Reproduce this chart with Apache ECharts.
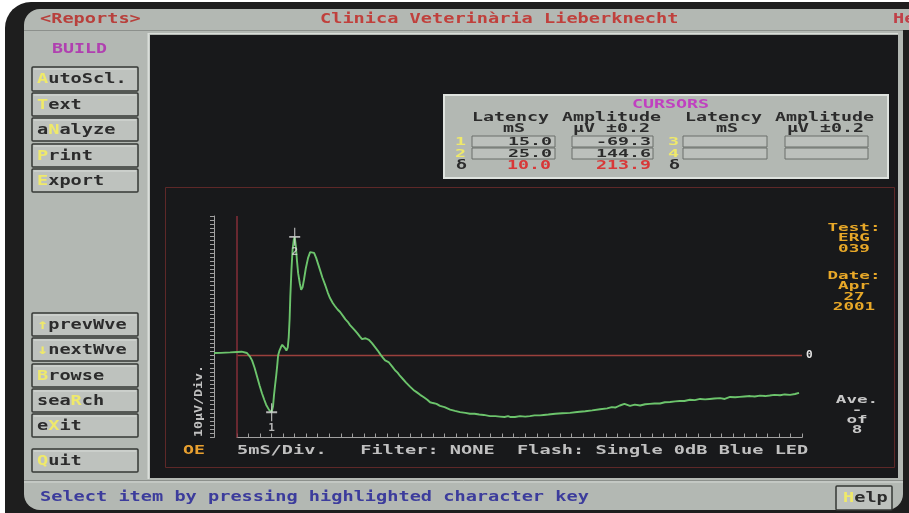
<!DOCTYPE html>
<html><head><meta charset="utf-8">
<script src="https://cdn.jsdelivr.net/npm/echarts@6/dist/echarts.min.js"></script>
<style>html,body{margin:0;padding:0;background:#fff}#c{width:909px;height:513px}</style>
</head><body><div id="c"></div>
<script>
// ---------- DATA ----------
const xRangeMs = [-10, 245];
const yRangeUv = [-100, 170];
const timeMs = [-10,-7,-3,0,2,4.3,5.5,6.5,7.6,8.7,9.8,10.8,11.8,12.6,13.8,15,15.6,16,16.5,17,17.5,17.8,18.4,19,19.6,20.2,20.8,21.4,22,22.4,22.8,23.1,23.6,24.1,24.6,25,25.5,26,26.5,27.2,27.8,28.4,29,29.8,30.8,31.7,32.5,33.4,34.3,35.2,36,37,38.2,39.3,40.3,41.5,42.5,43.6,44.7,46,47,48,49,50,51,52.2,53.3,54.2,55,55.7,56.4,57.2,58.5,59.6,61,62.2,63.3,64.2,65,65.7,66.3,67.4,68.5,69.6,70.7,72,73.3,75,76.5,78,79.4,81,82.5,83.7,85,86.5,88,90,92.4,94.5,96.7,99,101,103,105,107,109.7,112,114,116,117.5,118.4,120.5,122.7,125,127,129,131.4,133,135,138,141,144.4,147.5,151,154,157.4,160.5,162.5,164,166,168,170.4,172.5,174.8,177,179,181,183.4,185.5,187.8,190,192,194,196.4,198.5,200.8,203,205,207,209.5,211.5,213.8,216,218,220,222.5,224.5,226.8,229,231,233,235.5,237.5,239.8,242,243.7];
const amplitudeUv = [3,3.2,3.8,4.3,4.6,3,-1,-6,-15,-26,-37,-46,-54,-60,-66,-69.3,-62,-49,-36,-24,-10,0,6,10,13,13,9,6,10,22,45,72,105,130,141,144.6,133,115,100,88,80,83,92,106,119,126,128,125,119,111,104,95,86,77,70,64,60,56,53,48,44,41,37,34,31,27,23,20,19,21,22,19,15,11,6,1,-3,-6,-8,-8,-10,-14,-18,-21,-25,-29,-33,-38,-42,-45,-48,-51,-54,-57,-58,-59,-61.5,-63,-66,-67.5,-69,-70,-71,-71,-72,-72.5,-74,-74,-74.5,-75,-74,-75,-75,-74,-74.5,-74,-73,-73,-72.5,-72,-71,-70.5,-70,-69,-68,-67,-65.5,-64.5,-63,-63.5,-61,-59,-61.5,-60,-61,-59.5,-59,-58.5,-58.5,-57,-56.7,-56,-55.5,-55.5,-54,-54.5,-53,-53.5,-53,-52.5,-52,-53,-50.6,-51,-50.5,-50,-49.5,-50,-49,-49.5,-48.8,-48,-48.5,-47.5,-48,-47,-45.5];
const cursorLatencyMs = [15.0, 25.0];
const cursorAmplitudeUv = [-69.3, 144.6];
const cursorNames = ['1', '2'];
const xTicksEndMs = 245;

// ---------- UI helpers ----------
const FF = '"DejaVu Sans Mono", "Liberation Mono", monospace';
const G = [];
function rect(x,y,w,h,fill,stroke,lw,r,z){ G.push({type:'rect',silent:true,z:z||-5,shape:{x:x,y:y,width:w,height:h,r:r||0},style:{fill:fill||'none',stroke:stroke||'none',lineWidth:lw||0}}); }
function line(x1,y1,x2,y2,stroke,lw,z){ G.push({type:'line',silent:true,z:z||-4,shape:{x1:x1,y1:y1,x2:x2,y2:y2},style:{stroke:stroke,lineWidth:lw||1}}); }
function txt(s,x,y,fill,size,cw,align,rot){
  size=size||14; cw=cw||11.2;
  const sx=cw/(size*0.602);
  let left=x;
  if(align==='center') left=x-s.length*cw/2; else if(align==='right') left=x-s.length*cw;
  G.push({type:'text',silent:true,z:50,x:left,y:y,scaleX:sx,rotation:rot||0,
    style:{text:s,font:'bold '+size+'px '+FF,fill:fill,align:'left',verticalAlign:'middle',textAlign:'left',textVerticalAlign:'middle'}});
}
const GRAY='#b3b8b3', DARK='#2c2c2c', YEL='#efe96a', RED='#d83838';

// bezel and panels
rect(5,2,960,560,'#1e1e1e',null,0,26,-20);
rect(24,9,879,501,GRAY,null,0,16,-19);
rect(40,9,869,21,GRAY,null,0,0,-18);
line(24,30.5,903,30.5,'#8c908c',1,-17);
rect(150,35,748,443,'#18191b',null,0,0,-16);
line(148.5,33,148.5,479,'#dadeda',2,-15);
line(148,33.5,898,33.5,'#dadeda',1,-15);
line(24,480.5,903,480.5,'#8c908c',1,-15);
line(24,482,903,482,'#d4d8d4',1,-15);
rect(165.5,187.5,729,280,null,'#5e2828',1,0,-14);

// title row
txt('<Reports>',40,19,'#b8403c');
txt('Clinica Veterinària Lieberknecht',320,19,'#c0403c');
txt('He',893,19,'#c04048');

// left menu
txt('BUILD',52,49,'#b040b0',14,11);
const buttons=[['AutoScl.',0,67,91],['Text',0,93,116],['aNalyze',1,118,141],['Print',0,144,167],['Export',0,169,192],
  ['↑prevWve',0,313,336],['↓nextWve',0,338,361],['Browse',0,364,387],['seaRch',3,389,412],['eXit',1,414,437],['Quit',0,449,472]];
function hiText(label,hi,left,cy,cw){
  const pre=label.slice(0,hi), ch=label[hi], post=label.slice(hi+1);
  if(pre) txt(pre,left,cy,DARK,14,cw);
  txt(ch,left+hi*cw,cy,YEL,14,cw);
  if(post) txt(post,left+(hi+1)*cw,cy,DARK,14,cw);
}
buttons.forEach(function(b){
  rect(32,b[2],106,b[3]-b[2],'#bec2be','#363836',1.5,1,-10);
  line(34,b[2]+2,136,b[2]+2,'#d8dcd8',1,-9);
  hiText(b[0],b[1],37,(b[2]+b[3])/2+0.5,11.2);
});

// status bar
txt('Select item by pressing highlighted character key',40,497,'#3c3c9c');
rect(836,486,56,24,'#bec2be','#363836',1.5,1,-10);
hiText('Help',0,843,498,11.2);

// cursors box
rect(444,95,444,83,GRAY,'#dfe3df',2,0,-10);
txt('CURSORS',632,105,'#c040c0',12,11);
[['Latency',472],['Amplitude',562],['Latency',685],['Amplitude',775]].forEach(function(h){txt(h[0],h[1],118,DARK,12,11);});
[['mS',503],['µV ±0.2',573],['mS',716],['µV ±0.2',787]].forEach(function(h){txt(h[0],h[1],129,DARK,12,11);});
[[472,83],[572,81],[683,84],[785,83]].forEach(function(f){
  rect(f[0],136,f[1],11,'#bcc0bc','#6a6e6a',1,0,-9);
  rect(f[0],148,f[1],11,'#bcc0bc','#6a6e6a',1,0,-9);
});
txt('1',455,142,YEL,11,11); txt('2',455,154,YEL,11,11); txt('δ',456,166,DARK,12,11);
txt('3',668,142,YEL,11,11); txt('4',668,154,YEL,11,11); txt('δ',669,166,DARK,12,11);
txt(cursorLatencyMs[0].toFixed(1),552,142,DARK,11,11,'right');
txt(cursorLatencyMs[1].toFixed(1),552,154,DARK,11,11,'right');
txt((cursorLatencyMs[1]-cursorLatencyMs[0]).toFixed(1),551,166,RED,12,11,'right');
txt(cursorAmplitudeUv[0].toFixed(1),651,142,DARK,11,11,'right');
txt(cursorAmplitudeUv[1].toFixed(1),651,154,DARK,11,11,'right');
txt((cursorAmplitudeUv[1]-cursorAmplitudeUv[0]).toFixed(1),651,166,RED,12,11,'right');

// side info
const ORA='#e8a828';
[['Test:',228],['ERG',238],['039',249],['Date:',276],['Apr',286],['27',297],['2001',307]].forEach(function(t){txt(t[0],854,t[1],ORA,11,10.6,'center');});
[['Ave.',400],['-',410],['of',420],['8',430]].forEach(function(t){txt(t[0],857,t[1],'#c8c8c8',11,10.6,'center');});

// axis captions
txt('OE',183,451,'#e8a030',13,11);
txt('5mS/Div.   Filter: NONE  Flash: Single 0dB Blue LED',237,451,'#c0c0c0',13,11.2);
txt('10µV/Div.',199,437,'#c0c0c0',10,8,null,Math.PI/2);

// ---------- CHART ----------
const chart = echarts.init(document.getElementById('c'), null, {renderer:'canvas'});
const AX='#a0a0a0';
const traceData = timeMs.map(function(t,i){return [t, amplitudeUv[i]];});
const cursorData = cursorLatencyMs.map(function(t,i){return [t, cursorAmplitudeUv[i]];});
chart.setOption({
  backgroundColor:'#ffffff',
  animation:false,
  grid:[
    {left:214,right:107,top:216,bottom:75.5},
    {left:237,right:107,top:216,bottom:75.5}
  ],
  xAxis:[
    {gridIndex:0,type:'value',min:xRangeMs[0],max:xRangeMs[1],show:false},
    {gridIndex:1,type:'value',min:0,max:xTicksEndMs,interval:5,z:3,
      axisLine:{show:true,onZero:false,lineStyle:{color:AX,width:1}},
      axisTick:{show:true,inside:true,length:4,lineStyle:{color:AX,width:1}},
      axisLabel:{show:false},splitLine:{show:false}}
  ],
  yAxis:[
    {gridIndex:0,type:'value',min:yRangeUv[0],max:yRangeUv[1],interval:5,z:3,
      axisLine:{show:true,onZero:false,lineStyle:{color:AX,width:1}},
      axisTick:{show:true,length:4,lineStyle:{color:AX,width:1}},
      axisLabel:{show:false},splitLine:{show:false}},
    {gridIndex:1,type:'value',min:yRangeUv[0],max:yRangeUv[1],show:false}
  ],
  series:[
    {type:'line',xAxisIndex:0,yAxisIndex:0,data:traceData,showSymbol:false,symbol:'none',silent:true,z:5,
      lineStyle:{color:'#6cc46c',width:1.9},
      markLine:{silent:true,symbol:'none',animation:false,z:4,label:{show:false},
        lineStyle:{color:'#9a403c',width:1.4,type:'solid',opacity:1},
        emphasis:{disabled:true},
        data:[
          [{coord:[0,0],lineStyle:{color:'#9a403c',width:1.4,type:'solid',opacity:1},
            label:{show:true,position:'end',distance:4,formatter:'0',color:'#e6e6e6',fontWeight:'bold',fontSize:11,fontFamily:'DejaVu Sans Mono'}},
           {coord:[xTicksEndMs,0]}],
          [{coord:[0,yRangeUv[0]],lineStyle:{color:'#7e2c36',width:1.6,type:'solid',opacity:1}},{coord:[0,yRangeUv[1]]}]
        ]}},
    {type:'scatter',xAxisIndex:0,yAxisIndex:0,data:cursorData,silent:true,z:6,
      symbol:'path://M0,10L20,10M10,0L10,20',symbolSize:[11,18],
      itemStyle:{color:'rgba(0,0,0,0)',borderColor:'#dcdcdc',borderWidth:1.5},
      label:{show:true,position:'bottom',distance:0,formatter:function(p){return cursorNames[p.dataIndex];},
        color:'#dcdcdc',fontWeight:'bold',fontSize:11,fontFamily:'DejaVu Sans Mono'}}
  ],
  graphic:{elements:G}
});
</script></body></html>
